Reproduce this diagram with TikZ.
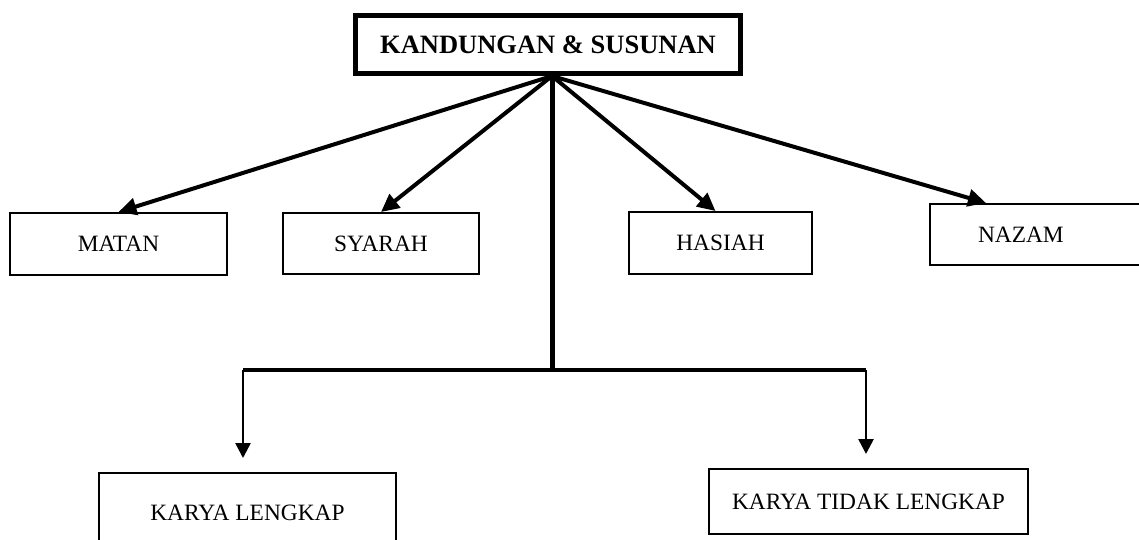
\documentclass[tikz,border=0pt]{standalone}
\usepackage{fontspec}
\setmainfont{Liberation Serif}
\usetikzlibrary{arrows.meta,calc}
\tikzset{
  % kotak dan anak panah
  % semua koordinat dalam piksel gambar (1pt = 1px), y ke bawah
  judul/.style={draw,line width=5pt,inner sep=0pt,minimum width=385,minimum height=58,
    font=\fontsize{26.5}{30}\selectfont\bfseries},
  kotak/.style={draw,line width=2pt,inner sep=0pt,font=\fontsize{23.4}{27}\selectfont},
  panah/.style={line width=4pt,-{Triangle[length=18pt,width=17pt]}},
  batang/.style={line width=5pt},
  palang/.style={line width=3.3pt},
  turun/.style={line width=2.6pt,-{Triangle[length=15pt,width=15pt]},shorten >=14pt},
}
\begin{document}
\begin{tikzpicture}[x=1pt,y=-1pt]
  \useasboundingbox (0,0) rectangle (1139,539);
  \node[judul] (top) at (548,44.5) {KANDUNGAN \& SUSUNAN};
  \node[kotak,minimum width=217,minimum height=62] (matan) at (118.5,244) {MATAN};
  \node[kotak,minimum width=196,minimum height=61] (syarah) at (381,243.5) {SYARAH};
  \node[kotak,minimum width=183,minimum height=62] (hasiah) at (720.5,243) {HASIAH};
  \node[kotak,minimum height=61,inner xsep=48,text width=124,align=left] (nazam) at (1040,234.5) {NAZAM};
  \node[kotak,minimum width=297,minimum height=80] (lengkap) at (247.5,513) {KARYA LENGKAP};
  \node[kotak,minimum width=319,minimum height=65] (tidak) at (868.5,501.5) {KARYA TIDAK LENGKAP};
  \coordinate (hub) at ([xshift=4]top.south);
  \coordinate (split) at (552,370);
  \draw[panah] (hub) -- (matan.north);
  \draw[panah] (hub) -- (syarah.north);
  \draw[panah] (hub) -- ([xshift=-5]hasiah.north);
  \draw[panah] (hub) -- ([xshift=57]nazam.north west);
  \draw[batang] (hub) -- (split);
  \draw[palang] ([xshift=-4.5]lengkap.north |- split) -- ([xshift=-2.5]tidak.north |- split);
  \draw[turun] ([xshift=-4.5]lengkap.north |- split) -- ([xshift=-4.5]lengkap.north);
  \draw[turun] ([xshift=-2.5]tidak.north |- split) -- ([xshift=-2.5]tidak.north);
\end{tikzpicture}
\end{document}
